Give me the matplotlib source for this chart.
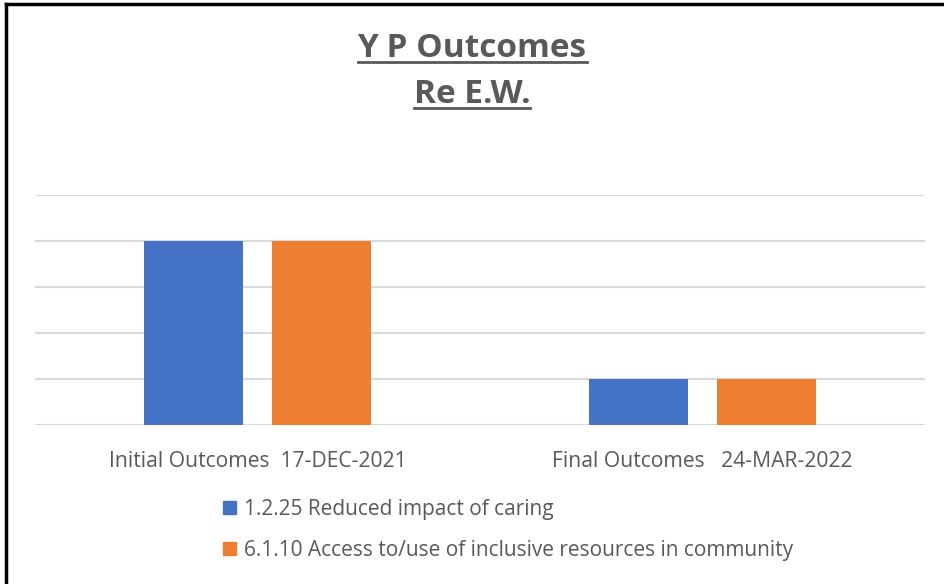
import matplotlib
matplotlib.use("Agg")
import matplotlib.pyplot as plt
from matplotlib.lines import Line2D
from matplotlib.patches import Patch
import numpy as np

# data
categories = ["Initial Outcomes  17-DEC-2021", "Final Outcomes   24-MAR-2022"]
series_names = ["1.2.25 Reduced impact of caring",
                "6.1.10 Access to/use of inclusive resources in community"]
reduced_impact = [4, 1]
access_resources = [4, 1]
title_lines = ["Y P Outcomes", "Re E.W."]

BLUE = "#4472C4"
ORANGE = "#ED7D31"
GREY = "#595959"
FONT = ["Open Sans", "DejaVu Sans"]

plt.rcParams["font.family"] = FONT

fig = plt.figure(figsize=(9.44, 5.84), dpi=100)
W, H = 944, 584
ax = fig.add_axes([35 / W, 1 - 425 / H, 890 / W, 230 / H])

x = np.arange(len(categories))
bw = 0.222
off = 0.143
ax.bar(x - off, reduced_impact, bw, color=BLUE, zorder=3)
ax.bar(x + off, access_resources, bw, color=ORANGE, zorder=3)

ax.set_xlim(-0.5, 1.5)
ax.set_ylim(0, 5)
ax.set_yticks(range(0, 6))
ax.yaxis.grid(True, color="#d9d9d9", lw=1.5, zorder=0)
ax.tick_params(axis="y", left=False, labelleft=False)
ax.tick_params(axis="x", bottom=False, pad=15)
ax.set_xticks(x)
ax.set_xticklabels(categories, fontsize=15.2, color=GREY)
for s in ax.spines.values():
    s.set_visible(False)
ax.set_axisbelow(True)

# legend
handles = [Patch(color=BLUE, label=series_names[0]),
           Patch(color=ORANGE, label=series_names[1])]
fig.legend(handles=handles, loc="upper left", bbox_to_anchor=(223 / W, 1 - 499 / H),
           frameon=False, fontsize=15, labelcolor=GREY, handlelength=0.62,
           handleheight=0.62, handletextpad=0.38, labelspacing=0.95, borderaxespad=0,
           borderpad=0)

# title with underline
title_base = [57, 103]
fig.canvas.draw()
renderer = fig.canvas.get_renderer()
for line, yb in zip(title_lines, title_base):
    t = fig.text(0.5, 1 - yb / H, line, ha="center", va="baseline", fontsize=24,
                 fontweight="bold", color=GREY)
    bb = t.get_window_extent(renderer=renderer)
    uy = 1 - (yb + 4.5) / H
    fig.add_artist(Line2D([bb.x0 / W, bb.x1 / W], [uy, uy], color=GREY, lw=2,
                          transform=fig.transFigure))

# chart border (left & top only)
fig.add_artist(Line2D([6 / W, 6 / W], [0, 1 - 4 / H], color="black", lw=2.5,
                      transform=fig.transFigure))
fig.add_artist(Line2D([6 / W, 1], [1 - 4 / H, 1 - 4 / H], color="black", lw=2.5,
                      transform=fig.transFigure))

fig.savefig("out.png", dpi=100)
